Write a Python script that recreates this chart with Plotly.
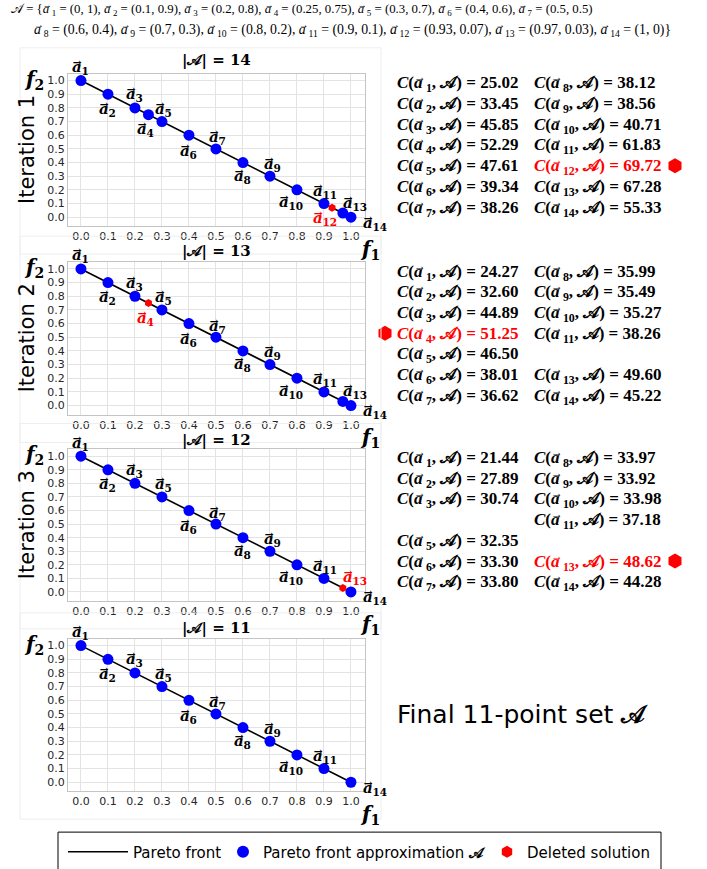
import plotly.graph_objects as go

W, H = 707, 869

# ---------------- data ----------------
names = [f"a{i}" for i in range(1, 15)]
f1 = [0.0, 0.1, 0.2, 0.25, 0.3, 0.4, 0.5, 0.6, 0.7, 0.8, 0.9, 0.93, 0.97, 1.0]
f2 = [1.0, 0.9, 0.8, 0.75, 0.7, 0.6, 0.5, 0.4, 0.3, 0.2, 0.1, 0.07, 0.03, 0.0]
front_f1 = [0.0, 1.0]
front_f2 = [1.0, 0.0]

C_iter1 = [25.02, 33.45, 45.85, 52.29, 47.61, 39.34, 38.26, 38.12, 38.56, 40.71, 61.83, 69.72, 67.28, 55.33]
C_iter2 = [24.27, 32.60, 44.89, 51.25, 46.50, 38.01, 36.62, 35.99, 35.49, 35.27, 38.26, None, 49.60, 45.22]
C_iter3 = [21.44, 27.89, 30.74, None, 32.35, 33.30, 33.80, 33.97, 33.92, 33.98, 37.18, None, 48.62, 44.28]
C_tables = [C_iter1, C_iter2, C_iter3]

deleted = [11, 3, 12]
set_sizes = [14, 13, 12, 11]
tick_vals = [0.0, 0.1, 0.2, 0.3, 0.4, 0.5, 0.6, 0.7, 0.8, 0.9, 1.0]
tick_text = ["0.0", "0.1", "0.2", "0.3", "0.4", "0.5", "0.6", "0.7", "0.8", "0.9", "1.0"]


def px(x):
    return x / W


def py(y):
    return 1 - y / H


SCRIPT_A = "\U0001D49C"


def avec(i, ls=0.6):
    # vector "a" with an arrow drawn above it, followed by subscript index
    return (f'<i><span style="letter-spacing:-{ls}em">a</span></i>'
            f'<sup>\u2192</sup><sub>{i}</sub>')


plot_x = (68, 365)
plot_y = [(74, 227), (263, 416), (451, 603), (641, 794)]
title_y = [60, 252, 442, 630]
xr = [-0.048, 1.052]
yr = [-0.066, 1.05]

label_shift = [(0, 14), (0, -14), (0, 14), (-3, -14), (2, 13), (0, -15), (2, 12),
               (0, -13), (3, 13), (-6, -12), (1, 13), (-7, -10), (12, 11), (24, -5)]

BLUE = "#0000ff"
RED = "#ff0000"
SERIF = "DejaVu Serif"
SANS = "DejaVu Sans"
TIMES = "Liberation Serif"

fig = go.Figure()
annotations = []
shapes = []


def paper_text(x, y, text, font, xanchor="center", yanchor="middle", **kw):
    annotations.append(dict(x=px(x), y=py(y), xref="paper", yref="paper", text=text, showarrow=False,
                            xanchor=xanchor, yanchor=yanchor, font=font, **kw))


removed_before = [set(), {deleted[0]}, {deleted[0], deleted[1]}, set(deleted)]

for k in range(4):
    ax = "" if k == 0 else str(k + 1)
    xa, ya = "x" + ax, "y" + ax
    fig.add_trace(go.Scatter(x=front_f1, y=front_f2, mode="lines", line=dict(color="black", width=1.6),
                             name="Pareto front", xaxis=xa, yaxis=ya, showlegend=(k == 0),
                             legend="legend", hoverinfo="skip"))
    keep = [i for i in range(14) if i not in removed_before[k]]
    del_i = deleted[k] if k < 3 else None
    blue_i = [i for i in keep if i != del_i]
    fig.add_trace(go.Scatter(x=[f1[i] for i in blue_i], y=[f2[i] for i in blue_i], mode="markers",
                             marker=dict(color=BLUE, size=11, line=dict(width=0)),
                             name=f"Pareto front approximation <b>{SCRIPT_A}</b>",
                             xaxis=xa, yaxis=ya, showlegend=(k == 0), legend="legend2"))
    if del_i is not None:
        fig.add_trace(go.Scatter(x=[f1[del_i]], y=[f2[del_i]], mode="markers",
                                 marker=dict(color=RED, size=8, symbol="hexagon", line=dict(width=0)),
                                 name="Deleted solution", xaxis=xa, yaxis=ya,
                                 showlegend=(k == 0), legend="legend3"))
    for i in keep:
        annotations.append(dict(x=f1[i], y=f2[i], xref=xa, yref=ya, text="<b>" + avec(i + 1) + "</b>",
                                showarrow=False, xanchor="center", yanchor="middle",
                                xshift=label_shift[i][0], yshift=label_shift[i][1],
                                font=dict(family=SERIF, size=15, color=RED if i == del_i else "black")))
    top, bot = plot_y[k]
    paper_text((plot_x[0] + plot_x[1]) / 2, title_y[k], f"<b>|{SCRIPT_A}| = {set_sizes[k]}</b>",
               dict(family=SERIF, size=15, color="black"))
    paper_text(34, top + 6, "<b><i>f</i><sub>2</sub></b>", dict(family=SERIF, size=20, color="black"))
    paper_text(370, bot + 24, "<b><i>f</i><sub>1</sub></b>", dict(family=SERIF, size=20, color="black"))
    if k < 3:
        paper_text(27, (top + bot) / 2, f"Iteration {k + 1}", dict(family=SANS, size=21, color="black"),
                   textangle=-90)
    shapes.append(dict(type="rect", xref="paper", yref="paper", x0=px(20), x1=px(381),
                       y0=py(bot + 28), y1=py(top - 26), line=dict(color="#eeeeee", width=1)))

    axis_common = dict(showgrid=True, gridcolor="#e3e3e3", gridwidth=1, zeroline=False,
                       showline=True, linecolor="#c4c4c4", linewidth=1, mirror=True,
                       tickmode="array", tickvals=tick_vals, ticktext=tick_text, ticks="",
                       tickfont=dict(family=SANS, size=11, color="#262626"), fixedrange=True)
    fig.layout["xaxis" + ax] = dict(domain=[px(plot_x[0]), px(plot_x[1])], range=xr, anchor=ya,
                                    **axis_common)
    fig.layout["yaxis" + ax] = dict(domain=[py(bot), py(top)], range=yr, anchor=xa, **axis_common)

# ---------------- contribution tables ----------------
row_top = [83, 272, 459]
row_gap = 20.8
col_x = [395, 532]
hex_x, hex_y = [], []
for k, table in enumerate(C_tables):
    for i, v in enumerate(table):
        if v is None:
            continue
        col, row = divmod(i, 7)
        yy = row_top[k] + row * row_gap
        color = RED if i == deleted[k] else "black"
        paper_text(col_x[col], yy, f"<b><i>C</i>({avec(i + 1, 0.5)}, {SCRIPT_A}) = {v:.2f}</b>",
                   dict(family=TIMES, size=17, color=color), xanchor="left")
        if i == deleted[k]:
            hex_x.append(385 if col == 0 else 675)
            hex_y.append(yy)

fig.add_trace(go.Scatter(x=hex_x, y=hex_y, mode="markers", xaxis="x5", yaxis="y5",
                         marker=dict(color=RED, size=15, symbol="hexagon", line=dict(width=0)),
                         showlegend=False, hoverinfo="skip"))
fig.layout["xaxis5"] = dict(domain=[0, 1], range=[0, W], visible=False, fixedrange=True)
fig.layout["yaxis5"] = dict(domain=[0, 1], range=[H, 0], visible=False, fixedrange=True, anchor="x5")

paper_text(395, 717, f"Final 11-point set <b>{SCRIPT_A}</b>", dict(family=SANS, size=25, color="black"),
           xanchor="left")

# ---------------- header ----------------
pts1 = ", ".join(f"{avec(i + 1, 0.5)} = ({f1[i]:g}, {f2[i]:g})" for i in range(7))
pts2 = ", ".join(f"{avec(i + 1, 0.5)} = ({f1[i]:g}, {f2[i]:g})" for i in range(7, 14))
paper_text(9, 9, f"{SCRIPT_A} = {{" + pts1, dict(family=TIMES, size=12.8, color="black"), xanchor="left")
paper_text(32, 29, pts2 + "}", dict(family=TIMES, size=13.8, color="black"), xanchor="left")

# legend frame
shapes.append(dict(type="rect", xref="paper", yref="paper", x0=px(58), x1=px(661), y0=py(835), y1=py(890),
                   line=dict(color="black", width=1)))

leg_common = dict(orientation="h", yanchor="middle", xanchor="left", bgcolor="rgba(0,0,0,0)",
                  borderwidth=0, font=dict(family=SANS, size=15, color="black"))
fig.update_layout(
    width=W, height=H, margin=dict(l=0, r=0, t=0, b=0),
    paper_bgcolor="white", plot_bgcolor="rgba(0,0,0,0)",
    annotations=annotations, shapes=shapes,
    legend=dict(x=px(63), y=py(855), itemwidth=60, **leg_common),
    legend2=dict(x=px(223), y=py(855), itemwidth=30, itemsizing="constant", **leg_common),
    legend3=dict(x=px(487), y=py(855), itemwidth=30, itemsizing="constant", **leg_common),
)

fig.write_html("out.html")
